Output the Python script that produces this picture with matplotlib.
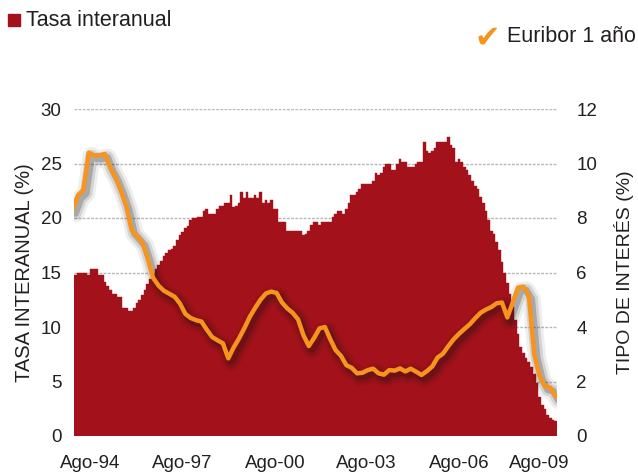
import numpy as np
import matplotlib
matplotlib.use("Agg")
import matplotlib.pyplot as plt
from matplotlib import patheffects
from matplotlib.patches import Rectangle

plt.rcParams['font.family'] = ['Liberation Sans', 'DejaVu Sans']

# tasa interanual (%), one bar per month
tasa = [
    14.8, 15.0, 15.0, 15.0, 15.0, 14.8, 15.3, 15.3, 15.3, 14.8,
    14.8, 14.1, 13.8, 13.4, 13.0, 13.0, 12.75, 12.75, 11.7, 11.7,
    11.45, 11.45, 11.7, 12.2, 12.5, 12.9, 13.4, 13.9, 14.4, 14.9,
    15.3, 15.7, 16.1, 16.5, 16.8, 17.1, 17.2, 17.4, 18.0, 18.4,
    18.7, 19.05, 19.3, 19.8, 20.0, 20.0, 20.1, 20.1, 20.6, 20.8,
    20.35, 20.35, 20.35, 20.8, 21.1, 21.1, 21.35, 21.35, 22.1, 21.0,
    21.1, 21.4, 22.35, 21.8, 22.35, 21.8, 21.8, 22.1, 21.8, 22.35,
    21.4, 21.65, 21.35, 21.65, 20.8, 20.8, 19.6, 19.6, 19.6, 18.8,
    18.8, 18.8, 18.8, 18.8, 18.8, 18.4, 18.5, 18.8, 19.35, 19.6,
    19.6, 19.35, 19.6, 19.6, 19.6, 19.6, 20.1, 20.35, 20.6, 20.6,
    20.35, 20.85, 21.35, 22.1, 22.1, 22.35, 22.65, 23.1, 23.1, 23.1,
    23.1, 23.4, 24.15, 23.95, 24.15, 24.7, 24.95, 24.95, 24.4, 24.4,
    24.95, 25.4, 25.1, 25.1, 24.7, 24.7, 24.7, 24.95, 25.1, 25.1,
    26.95, 26.15, 26.0, 26.15, 26.4, 26.95, 26.95, 26.95, 26.95, 27.4,
    26.7, 26.4, 25.1, 25.4, 25.1, 24.7, 24.4, 23.95, 23.4, 22.9,
    22.65, 21.9, 21.4, 20.6, 19.8, 18.8, 18.5, 17.8, 17.05, 16.0,
    15.0, 14.0, 13.0, 11.8, 10.6, 9.4, 8.2, 7.6, 7.2, 6.8,
    6.3, 5.7, 4.9, 3.6, 2.85, 2.5, 1.9, 1.65, 1.45, 1.4,
]
meses = np.arange(len(tasa))

# euribor 1 año (%), sampled every two months
euribor = [
    8.3, 8.84, 9.03, 10.4, 10.3, 10.3, 10.35, 9.85, 9.48, 9.0,
    8.42, 7.55, 7.33, 7.1, 6.5, 5.8, 5.52, 5.33, 5.22, 5.11,
    4.86, 4.48, 4.33, 4.25, 4.2, 3.9, 3.63, 3.51, 3.4, 2.85,
    3.25, 3.58, 3.96, 4.37, 4.7, 5.0, 5.23, 5.3, 5.25, 4.9,
    4.68, 4.52, 4.28, 3.7, 3.3, 3.6, 3.95, 4.0, 3.55, 3.15,
    2.94, 2.6, 2.5, 2.3, 2.32, 2.42, 2.47, 2.3, 2.25, 2.42,
    2.4, 2.48, 2.37, 2.47, 2.36, 2.24, 2.38, 2.55, 2.88, 3.02,
    3.3, 3.55, 3.75, 3.93, 4.1, 4.32, 4.52, 4.64, 4.73, 4.87,
    4.9, 4.35, 4.9, 5.45, 5.48, 5.15, 3.0, 2.2, 1.83, 1.78,
    1.45,
]
eur_meses = np.arange(-1, 180, 2)

xlabels = ['Ago-94', 'Ago-97', 'Ago-00', 'Ago-03', 'Ago-06', 'Ago-09']
xlabel_pos = [5.5, 40, 74.5, 108.5, 143, 173]

rojo = '#a3121a'
naranja = '#f7941d'
texto = '#231f20'

W, H = 638, 475
fig = plt.figure(figsize=(W / 100, H / 100), dpi=100)
ax = fig.add_axes([74 / W, 1 - 436 / H, (557 - 74) / W, (436 - 109) / H])

ax.bar(meses, tasa, width=1.0, color=rojo, edgecolor=rojo, linewidth=0.3, zorder=2)
ax.set_xlim(-0.5, len(tasa) - 0.5)
ax.set_ylim(0, 30)
ax.set_yticks(range(0, 31, 5))
ax.set_axisbelow(True)
ax.yaxis.grid(True, color='#b8b8b8', linestyle=(0, (2, 1)), linewidth=1)
ax.set_xticks(xlabel_pos)
ax.set_xticklabels(xlabels)
ax.tick_params(axis='both', length=0, labelsize=13.5, colors=texto)
ax.tick_params(axis='y', pad=9)
ax.tick_params(axis='x', pad=14)
for s in ax.spines.values():
    s.set_visible(False)
ax.set_ylabel('TASA INTERANUAL (%)', fontsize=14.5, color=texto, labelpad=5)

ax2 = ax.twinx()
ax2.set_ylim(0, 12)
ax2.set_yticks(range(0, 13, 2))
ax2.tick_params(axis='y', length=0, labelsize=13.5, colors=texto, pad=14)
for s in ax2.spines.values():
    s.set_visible(False)
ax2.set_ylabel('TIPO DE INTERÉS (%)', fontsize=14, color=texto, labelpad=12)

sombra = [
    patheffects.SimpleLineShadow(offset=(2, -2.5), shadow_color='#111111', alpha=0.07, linewidth=13),
    patheffects.SimpleLineShadow(offset=(2, -2.5), shadow_color='#111111', alpha=0.12, linewidth=9),
    patheffects.SimpleLineShadow(offset=(2, -2.5), shadow_color='#111111', alpha=0.22, linewidth=5),
    patheffects.Normal(),
]
ax2.plot(eur_meses, euribor, color=naranja, linewidth=3.2, solid_joinstyle='round',
         solid_capstyle='round', path_effects=sombra, zorder=3)

# legend
fig.patches.append(Rectangle((8 / W, 1 - 26 / H), 12 / W, 12 / H, color=rojo,
                             transform=fig.transFigure))
fig.text(26 / W, 1 - 21 / H, 'Tasa interanual', va='center', fontsize=15.5, color=texto)
fig.text(487 / W, 1 - 38 / H, '\u2714', ha='center', va='center', fontsize=22,
         color=naranja, family='DejaVu Sans')
fig.text(507 / W, 1 - 36 / H, 'Euribor 1 año', va='center', fontsize=15.5, color=texto)

fig.savefig('out.png', dpi=100)
